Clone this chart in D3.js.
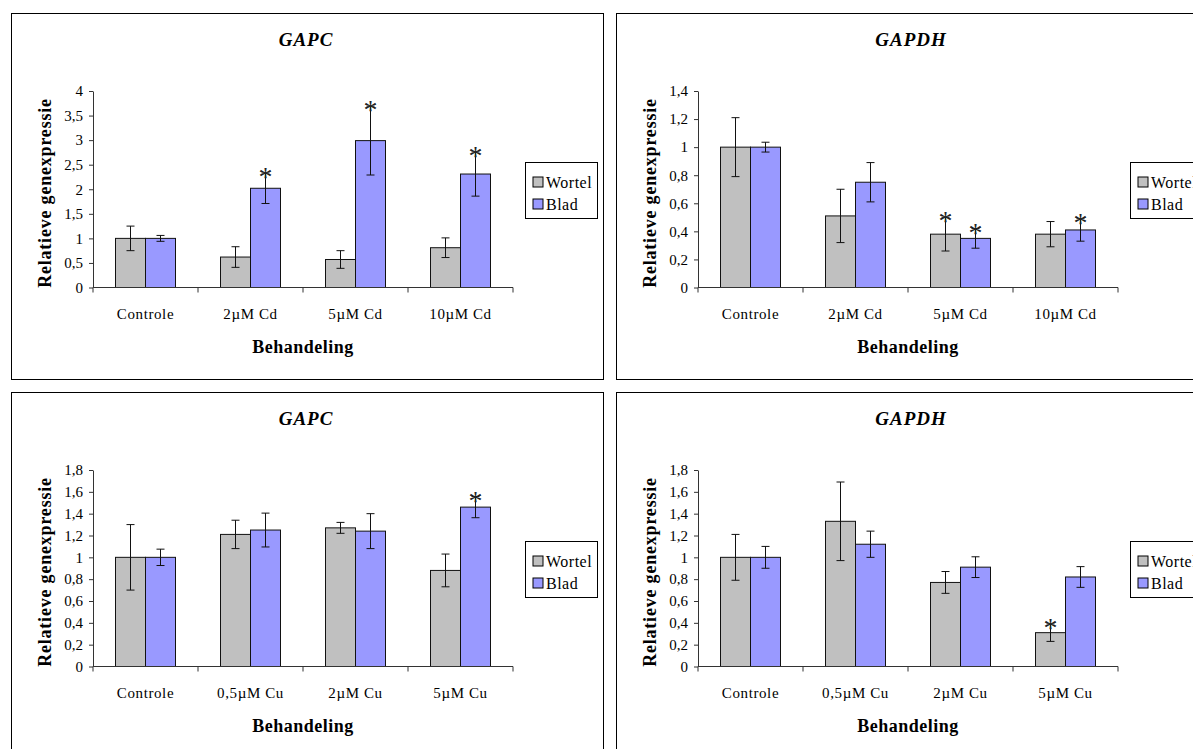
<!DOCTYPE html>
<html>
<head>
<meta charset="utf-8">
<script src="https://cdn.jsdelivr.net/npm/d3@7"></script>
<style>
  body { margin: 0; background: #fff; }
  svg text { font-family: "Times New Roman", "Liberation Serif", "DejaVu Serif", serif !important; }
</style>
</head>
<body>
<div id="svgContainer"></div>
<script>
// chart data
var cdCategories = ["Controle", "2µM Cd", "5µM Cd", "10µM Cd"];
var cuCategories = ["Controle", "0,5µM Cu", "2µM Cu", "5µM Cu"];
var seriesNames = ["Wortel", "Blad"];

var gapcCdWortel = [1.0, 0.62, 0.57, 0.81];
var gapcCdWortelErr = [0.25, 0.21, 0.18, 0.2];
var gapcCdBlad = [1.0, 2.02, 2.99, 2.31];
var gapcCdBladErr = [0.06, 0.31, 0.7, 0.45];
var gapcCdSig = [[0, 0, 0, 0], [0, 1, 1, 1]];

var gapdhCdWortel = [1.0, 0.51, 0.38, 0.38];
var gapdhCdWortelErr = [0.21, 0.19, 0.12, 0.09];
var gapdhCdBlad = [1.0, 0.75, 0.35, 0.41];
var gapdhCdBladErr = [0.035, 0.14, 0.07, 0.08];
var gapdhCdSig = [[0, 0, 1, 0], [0, 0, 1, 1]];

var gapcCuWortel = [1.0, 1.21, 1.27, 0.88];
var gapcCuWortelErr = [0.3, 0.13, 0.05, 0.15];
var gapcCuBlad = [1.0, 1.25, 1.24, 1.46];
var gapcCuBladErr = [0.075, 0.155, 0.16, 0.097];
var gapcCuSig = [[0, 0, 0, 0], [0, 0, 0, 1]];

var gapdhCuWortel = [1.0, 1.33, 0.77, 0.31];
var gapdhCuWortelErr = [0.21, 0.36, 0.1, 0.08];
var gapdhCuBlad = [1.0, 1.12, 0.91, 0.82];
var gapdhCuBladErr = [0.1, 0.12, 0.095, 0.095];
var gapdhCuSig = [[0, 0, 0, 1], [0, 0, 0, 0]];

var svgWidth = 1193, svgHeight = 749;
var FONT = "'Times New Roman', 'Liberation Serif', 'DejaVu Serif', serif";
var svg = d3.select("#svgContainer").append("svg")
    .attr("width", svgWidth)
    .attr("height", svgHeight)
    .attr("font-family", FONT);

var colors = ["#c0c0c0", "#9999ff"];
var fmt = function(v){ return String(+v.toFixed(1)).replace(".", ","); };

var panels = [
  {x: 11, y: 13, title: "GAPC", cats: cdCategories, vals: [gapcCdWortel, gapcCdBlad], errs: [gapcCdWortelErr, gapcCdBladErr], sig: gapcCdSig, max: 4, step: 0.5},
  {x: 616, y: 13, title: "GAPDH", cats: cdCategories, vals: [gapdhCdWortel, gapdhCdBlad], errs: [gapdhCdWortelErr, gapdhCdBladErr], sig: gapdhCdSig, max: 1.4, step: 0.2},
  {x: 11, y: 392, title: "GAPC", cats: cuCategories, vals: [gapcCuWortel, gapcCuBlad], errs: [gapcCuWortelErr, gapcCuBladErr], sig: gapcCuSig, max: 1.8, step: 0.2},
  {x: 616, y: 392, title: "GAPDH", cats: cuCategories, vals: [gapdhCuWortel, gapdhCuBlad], errs: [gapdhCuWortelErr, gapdhCuBladErr], sig: gapdhCuSig, max: 1.8, step: 0.2}
];

panels.forEach(drawPanel);

function drawPanel(p){
  var g = svg.append("g").attr("transform", "translate(" + p.x + "," + p.y + ")");
  var pw = 592, ph = 366;
  var left = 82, right = 502, top = 78, bottom = 274.5;

  g.append("rect").attr("x", 0.5).attr("y", 0.5).attr("width", pw).attr("height", ph)
    .attr("fill", "#fff").attr("stroke", "#000").attr("stroke-width", 1);

  var x = d3.scaleBand().domain(p.cats).range([left, right]).paddingInner(0).paddingOuter(0);
  var bw = x.bandwidth() / 3.5;
  var y = d3.scaleLinear().domain([0, p.max]).range([bottom, top]);
  var ticks = d3.range(0, p.max + p.step / 2, p.step);

  // y axis
  var ya = g.append("g").attr("transform", "translate(" + left + ",0)")
    .call(d3.axisLeft(y).tickValues(ticks).tickFormat(fmt).tickSize(4).tickSizeOuter(0));
  ya.attr("font-family", FONT);
  ya.select(".domain").attr("stroke", "#333");
  ya.selectAll(".tick line").attr("stroke", "#333");
  ya.selectAll(".tick text").attr("font-size", 15).attr("fill", "#000").attr("x", -10);

  // bars
  var data = [];
  p.cats.forEach(function(c, i){
    for (var s = 0; s < 2; s++) {
      data.push({cat: c, s: s, v: p.vals[s][i], e: p.errs[s][i], sig: p.sig[s][i]});
    }
  });
  var bx = function(d){ return x(d.cat) + bw * 0.75 + d.s * bw; };

  g.selectAll("rect.bar").data(data).enter().append("rect")
    .attr("class", "bar")
    .attr("x", bx)
    .attr("y", function(d){ return y(d.v); })
    .attr("width", bw)
    .attr("height", function(d){ return bottom - y(d.v); })
    .attr("fill", function(d){ return colors[d.s]; })
    .attr("stroke", "#111").attr("stroke-width", 1);

  // x axis
  var xa = g.append("g").attr("transform", "translate(0," + bottom + ")");
  xa.append("line").attr("x1", left).attr("x2", right).attr("stroke", "#333");
  xa.selectAll("line.tk").data(p.cats.concat(["end"])).enter().append("line")
    .attr("class", "tk")
    .attr("x1", function(d, i){ return left + i * x.bandwidth(); })
    .attr("x2", function(d, i){ return left + i * x.bandwidth(); })
    .attr("y1", 0).attr("y2", 5).attr("stroke", "#333");
  xa.selectAll("text").data(p.cats).enter().append("text")
    .attr("x", function(d){ return x(d) + x.bandwidth() / 2; })
    .attr("y", 31)
    .attr("text-anchor", "middle")
    .attr("font-size", 15)
    .attr("letter-spacing", 0.6)
    .text(function(d){ return d; });

  // error bars
  var eb = g.selectAll("g.err").data(data).enter().append("g").attr("class", "err");
  eb.append("line")
    .attr("x1", function(d){ return bx(d) + bw / 2; })
    .attr("x2", function(d){ return bx(d) + bw / 2; })
    .attr("y1", function(d){ return y(d.v + d.e); })
    .attr("y2", function(d){ return y(d.v - d.e); })
    .attr("stroke", "#111");
  [1, -1].forEach(function(sgn){
    eb.append("line")
      .attr("x1", function(d){ return bx(d) + bw / 2 - 4; })
      .attr("x2", function(d){ return bx(d) + bw / 2 + 4; })
      .attr("y1", function(d){ return y(d.v + sgn * d.e); })
      .attr("y2", function(d){ return y(d.v + sgn * d.e); })
      .attr("stroke", "#111");
  });

  // asterisks
  g.selectAll("text.sig").data(data.filter(function(d){ return d.sig; })).enter().append("text")
    .attr("class", "sig")
    .attr("x", function(d){ return bx(d) + bw / 2; })
    .attr("y", function(d){ return y(d.v + d.e) + 13; })
    .attr("text-anchor", "middle")
    .attr("font-size", 28)
    .attr("fill", "#222")
    .text("*");

  // titles
  g.append("text").attr("x", 295).attr("y", 33).attr("text-anchor", "middle")
    .attr("font-size", 19).attr("font-weight", "bold").attr("font-style", "italic")
    .attr("letter-spacing", 1)
    .text(p.title);
  g.append("text").attr("transform", "translate(40,180) rotate(-90)")
    .attr("text-anchor", "middle").attr("font-size", 18).attr("font-weight", "bold")
    .attr("letter-spacing", 0.8)
    .text("Relatieve genexpressie");
  g.append("text").attr("x", (left + right) / 2).attr("y", 340).attr("text-anchor", "middle")
    .attr("font-size", 18).attr("font-weight", "bold")
    .attr("letter-spacing", 0.5)
    .text("Behandeling");

  // legend
  var lg = g.append("g").attr("transform", "translate(514,149)");
  lg.append("rect").attr("x", 0.5).attr("y", 0.5).attr("width", 72).attr("height", 56)
    .attr("fill", "#fff").attr("stroke", "#000");
  var item = lg.selectAll("g.item").data(seriesNames).enter().append("g")
    .attr("class", "item")
    .attr("transform", function(d, i){ return "translate(8," + (15 + i * 22) + ")"; });
  item.append("rect").attr("width", 10).attr("height", 10)
    .attr("fill", function(d, i){ return colors[i]; }).attr("stroke", "#000");
  item.append("text").attr("x", 13).attr("y", 10.5).attr("font-size", 16)
    .attr("letter-spacing", 0.5)
    .text(function(d){ return d; });
}
</script>
</body>
</html>
